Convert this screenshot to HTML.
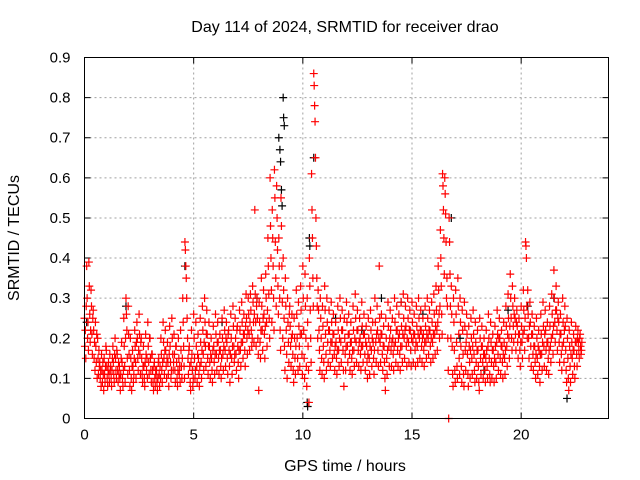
<!DOCTYPE html>
<html><head><meta charset="utf-8"><style>
body{margin:0;background:#fff;}
svg{display:block;font-family:"Liberation Sans",sans-serif;}
</style></head><body>
<svg id="chart" width="640" height="480" viewBox="0 0 640 480">
<text x="345" y="32" text-anchor="middle" font-size="16">Day 114 of 2024, SRMTID for receiver drao</text>
<text x="345" y="471" text-anchor="middle" font-size="16">GPS time / hours</text>
<text transform="translate(19,238) rotate(-90)" text-anchor="middle" font-size="16">SRMTID / TECUs</text>
<g id="grid"></g>
<g id="axes"></g>
<g id="black" stroke="#000" stroke-width="1.2"></g>
<g id="red" stroke="#ff0000" stroke-width="1.2"></g>
<rect x="84.5" y="57.5" width="524" height="361" fill="none" stroke="#000" stroke-width="1"/>
</svg>
<script>
const xTicks=[0,5,10,15,20];
const yTicks=[0,0.1,0.2,0.3,0.4,0.5,0.6,0.7,0.8,0.9];
const yTickLabels=["0","0.1","0.2","0.3","0.4","0.5","0.6","0.7","0.8","0.9"];
const binHours=0.1;
// red series: each row = values (hundredths of TECU) within a 0.1 h bin starting at 0
const redBins=[
[25,18,22,15,28],[38,30,20,24,17],[39,33,26,19,22],[32,28,21,16,25],[27,22,15,19,12],[24,18,14,21,10],[20,15,11,17,13],[14,10,12,8,16],[12,9,14,11,7],[15,11,9,13,18],
[17,13,10,8,12],[14,11,9,16,12],[13,10,8,12,15],[18,14,11,9,16],[20,15,12,10,17],[16,12,9,14,11],[13,10,7,11,15],[19,14,10,8,12],[25,18,13,9,20],[30,26,22,15,11],
[28,21,16,12,8],[20,15,10,7,13],[17,13,9,11,15],[22,18,14,10,19],[24,20,15,12,17],[26,21,16,11,19],[20,15,11,9,13],[18,13,10,8,14],[21,16,12,15,10],[24,18,14,11,20],
[20,15,12,9,16],[16,12,9,7,13],[14,10,8,12,11],[12,9,7,10,14],[15,11,8,13,10],[20,16,12,9,14],[24,19,15,11,17],[22,17,13,10,15],[19,14,11,8,16],[23,18,14,10,12],
[25,20,16,12,14],[21,16,12,9,18],[18,14,10,8,12],[20,15,11,13,9],[22,17,13,10,15],[30,24,18,13,10],[44,42,38,35,30],[25,20,15,11,17],[18,13,9,7,14],[22,16,12,8,10],
[26,20,15,10,12],[24,18,13,9,16],[21,15,11,8,13],[25,19,14,10,17],[28,22,16,12,19],[30,24,18,13,21],[27,21,15,11,18],[24,18,14,10,16],[20,15,12,9,17],[23,18,14,11,16],
[26,21,16,12,19],[24,19,15,11,17],[21,17,13,10,15],[25,20,16,12,18],[27,22,17,13,20],[24,19,15,11,21],[22,17,13,9,16],[26,20,15,11,18],[28,23,18,14,16],[25,20,16,12,22],
[23,18,14,10,17],[27,22,17,13,19],[29,24,19,15,21],[26,21,17,13,23],[31,25,20,16,22],[30,26,21,17,24],[31,27,22,18,20],[33,29,24,19,26],[52,31,24,18,28],[30,25,20,16,7],
[29,24,19,15,22],[35,28,22,17,25],[32,26,21,15,23],[36,30,24,18,27],[45,38,31,25,20],[60,48,40,32,24],[52,45,38,30,22],[62,55,44,35,28],[58,50,42,33,26],[45,38,30,22,17],
[55,48,38,29,20],[40,32,25,18,12],[35,28,22,16,10],[30,24,19,14,26],[28,23,18,13,20],[26,21,16,12,9],[25,20,15,11,18],[32,26,20,15,12],[29,23,18,13,21],[33,27,21,16,11],
[38,30,22,15,10],[36,28,20,13,8],[30,24,18,12,4],[40,33,27,20,14],[61,52,45,35,28],[86,83,78,74,65],[50,43,35,28,20],[32,27,22,17,12],[30,25,20,15,11],[28,23,18,14,10],
[33,27,21,16,12],[30,24,19,14,22],[27,22,17,13,19],[29,24,19,15,21],[26,21,16,12,18],[24,19,15,11,17],[28,22,17,13,20],[30,25,19,14,22],[27,22,17,12,8],[25,20,16,12,18],
[29,24,18,14,21],[26,21,16,12,19],[24,19,15,11,17],[28,22,17,13,20],[31,25,19,14,22],[27,22,17,13,19],[25,20,16,12,18],[29,23,18,14,21],[26,21,16,12,19],[23,18,14,10,16],
[25,20,15,11,18],[27,22,17,13,20],[24,19,15,11,17],[30,24,19,14,21],[28,22,17,13,20],[38,25,19,14,21],[26,21,16,12,18],[23,18,14,10,7],[25,20,15,11,17],[29,23,18,13,20],
[27,22,17,13,19],[25,20,16,12,18],[30,24,19,14,22],[28,22,17,13,20],[26,21,16,12,18],[29,23,18,14,21],[31,25,20,15,22],[28,23,18,13,20],[30,25,19,14,22],[27,22,17,13,20],
[29,24,19,14,21],[26,21,17,13,19],[28,23,18,14,21],[30,25,20,15,22],[27,22,18,14,20],[25,21,17,13,19],[28,23,19,15,21],[30,25,20,16,22],[27,22,18,14,20],[29,24,19,15,21],
[31,26,21,16,23],[33,27,22,17,24],[38,32,26,20,28],[47,40,33,26,21],[61,58,52,45,36],[60,56,51,44,30],[35,28,20,12,0],[50,44,36,28,20],[33,26,18,11,8],[30,24,17,12,9],
[32,26,19,13,10],[35,28,21,15,11],[30,24,18,13,9],[27,22,16,11,8],[29,23,17,12,19],[26,21,16,11,8],[23,18,14,10,17],[25,20,15,11,18],[27,21,16,12,9],[24,19,14,10,17],
[22,17,13,9,7],[25,20,15,11,18],[23,18,14,10,16],[20,16,12,9,15],[22,17,13,10,18],[26,20,15,11,9],[24,19,14,10,17],[21,17,13,9,15],[23,18,14,10,19],[27,21,16,12,20],
[25,20,15,11,18],[22,18,14,10,16],[24,19,15,11,17],[28,23,18,13,21],[31,25,20,15,23],[36,30,25,20,17],[33,28,23,19,26],[30,25,21,17,24],[27,23,19,15,21],[25,21,17,13,19],
[28,23,19,15,21],[32,27,22,17,25],[44,43,40,28,20],[32,26,20,15,23],[29,24,18,13,21],[26,21,16,12,18],[23,18,14,10,16],[25,20,15,11,18],[22,17,13,9,16],[26,21,16,12,19],
[29,23,18,13,21],[27,22,17,12,19],[24,19,15,11,17],[28,23,18,14,20],[31,26,21,16,23],[37,30,24,19,27],[33,27,22,17,25],[29,24,19,14,21],[26,21,16,12,18],[30,24,19,14,22],
[28,23,17,12,9],[25,20,15,10,7],[22,18,13,9,16],[24,19,15,11,17],[21,17,13,10,19],[23,19,16,13,20],[22,19,17,15,20],[21,18,16,17,19]
];
// black series: sparse visible points (hours)
const blackTimes=[9.1,9.12,9.15,8.9,8.95,8.98,9.02,9.05,10.5,10.3,10.32,10.2,10.22,16.8,4.6,13.6,22.1,0.1,1.9,7.9,11.5,14.5,18.3,21.5,19.4,20.3,12.7,15.5,17.2,6.3];
const blackValues=[0.80,0.75,0.73,0.70,0.67,0.64,0.57,0.53,0.65,0.45,0.43,0.04,0.03,0.50,0.38,0.30,0.05,0.24,0.28,0.30,0.25,0.29,0.12,0.30,0.27,0.28,0.22,0.26,0.20,0.24];

const X0=84.5,X1=608.5,Y0=418.5,Y1=57.5;
const xScale=t=>X0+(t/24)*(X1-X0);
const yScale=v=>Y0-(v/0.9)*(Y0-Y1);
const NS="http://www.w3.org/2000/svg";
function mk(tag,attrs,parent){const e=document.createElementNS(NS,tag);for(const k in attrs)e.setAttribute(k,attrs[k]);parent.appendChild(e);return e;}
const grid=document.getElementById('grid'),axes=document.getElementById('axes');
xTicks.forEach((t,i)=>{
  const x=xScale(t);
  if(i>0){const g=mk('line',{x1:x,x2:x,y1:Y1,y2:Y0,stroke:'#a0a0a0','stroke-dasharray':'2,3'},grid);
  
  }
  const tk=mk('path',{d:`M${x},${Y0}v-6M${x},${Y1}v6`,stroke:'#000'},axes);
  
  
  const tx=mk('text',{x:x,y:Y0+21,'text-anchor':'middle','font-size':'15'},axes);
  tx.textContent=String(t);
  
  
});
yTicks.forEach((v,i)=>{
  const y=yScale(v);
  if(i>0&&i<yTicks.length-1){const g=mk('line',{x1:X0,x2:X1,y1:y,y2:y,stroke:'#a0a0a0','stroke-dasharray':'2,3'},grid);
  
  }
  const tk=mk('path',{d:`M${X0},${y}h6M${X1},${y}h-6`,stroke:'#000'},axes);
  
  
  const tx=mk('text',{x:X0-14,y:y+5,'text-anchor':'end','font-size':'15'},axes);
  tx.textContent=yTickLabels[i];
  
  
});
function plus(g,t,v,name){
  const x=xScale(t),y=yScale(v);
  const p=mk('path',{d:`M${x-4},${y}h8M${x},${y-4}v8`},g);
  
  
}
const bg=document.getElementById('black');
blackTimes.forEach((t,i)=>plus(bg,t,blackValues[i],'black-point'));
const rg=document.getElementById('red');
redBins.forEach((vals,i)=>{
  vals.forEach((v,j)=>plus(rg,i*binHours+j*binHours/vals.length,v/100,'red-point'));
});
</script>
</body></html>
